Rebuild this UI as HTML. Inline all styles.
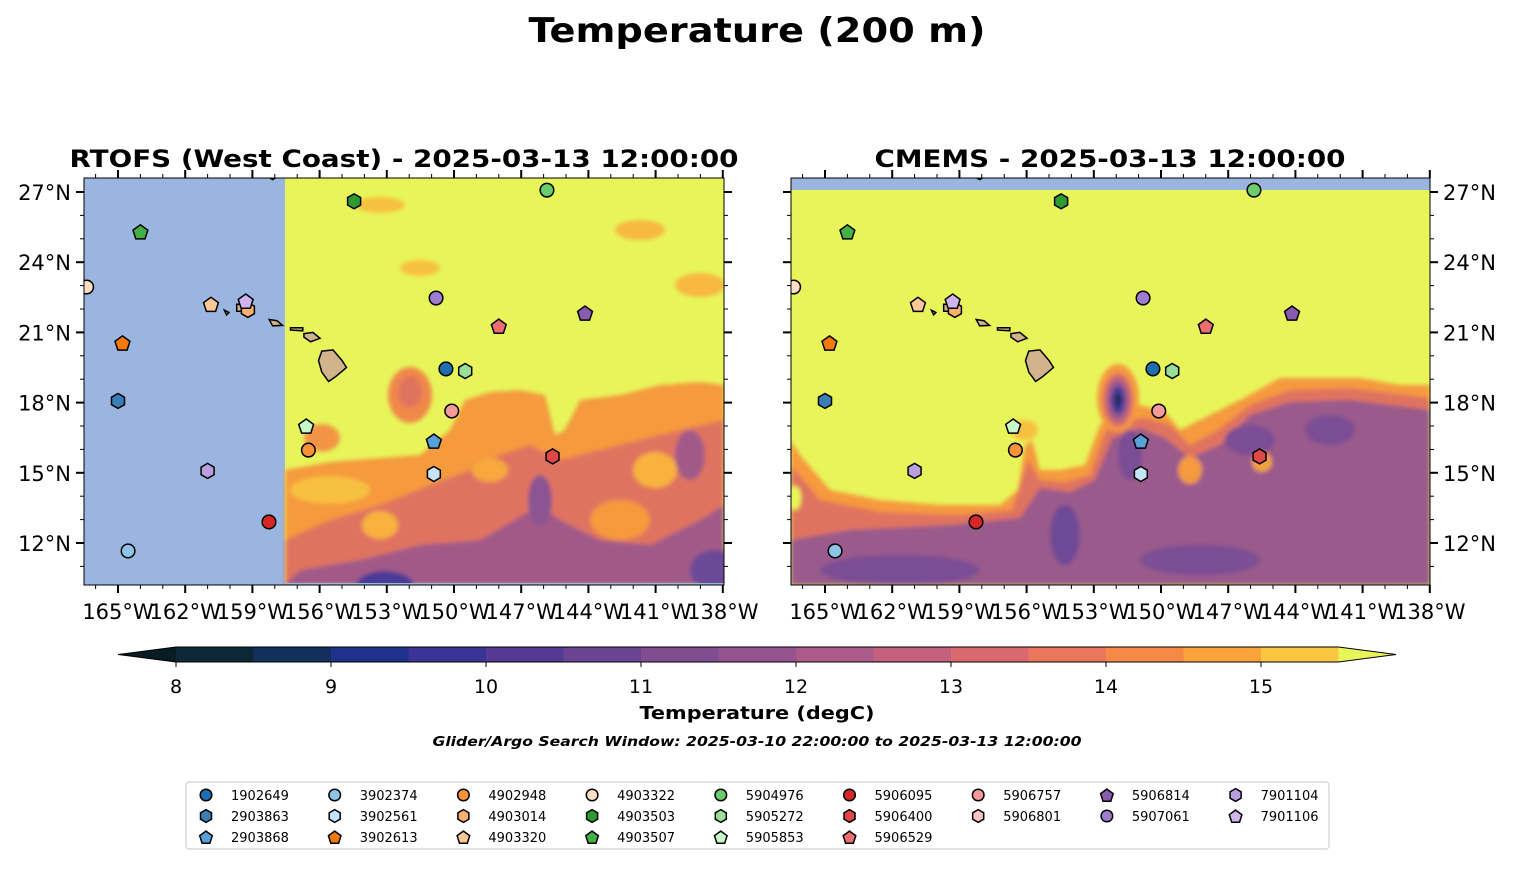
<!DOCTYPE html>
<html><head><meta charset="utf-8"><style>
body{margin:0;background:#fff;}
svg text{font-family:"DejaVu Sans","Liberation Sans",sans-serif;}
</style></head><body>
<svg id="fig" width="1514" height="889" viewBox="0 0 1514 889" xmlns="http://www.w3.org/2000/svg">
<defs>
<clipPath id="clipL"><rect x="84" y="178" width="640" height="407"/></clipPath>
<clipPath id="clipR"><rect x="791" y="178" width="639" height="407"/></clipPath>
<filter id="soft"><feGaussianBlur stdDeviation="2"/></filter>
</defs>
<text x="757" y="42" text-anchor="middle" font-size="34" font-weight="bold" textLength="457" lengthAdjust="spacingAndGlyphs">Temperature (200 m)</text>
<text x="404" y="167" text-anchor="middle" font-size="24" font-weight="bold" textLength="669" lengthAdjust="spacingAndGlyphs">RTOFS (West Coast) - 2025-03-13 12:00:00</text>
<text x="1110" y="167" text-anchor="middle" font-size="24" font-weight="bold" textLength="471" lengthAdjust="spacingAndGlyphs">CMEMS - 2025-03-13 12:00:00</text>

<g clip-path="url(#clipL)">
<rect x="84" y="178" width="640" height="407" fill="#e8f55a"/>
<rect x="84" y="178" width="201" height="407" fill="#9ab6e0"/>
<g filter="url(#soft)">
<path d="M285,470 L330,462 L380,458 L420,455 L450,430 L465,400 L490,392 L520,390 L545,395 L555,435 L565,430 L580,400 L620,395 L660,385 L700,382 L724,385 L724,585 L285,585 Z" fill="#f59a3e"/>
<ellipse cx="410" cy="395" rx="22" ry="28" fill="#f0884a"/>
<ellipse cx="410" cy="392" rx="12" ry="16" fill="#e0735f"/>
<ellipse cx="322" cy="438" rx="18" ry="14" fill="#f39444"/>
<ellipse cx="640" cy="230" rx="25" ry="10" fill="#f8b840"/>
<ellipse cx="700" cy="285" rx="25" ry="12" fill="#f8b840"/>
<ellipse cx="420" cy="268" rx="20" ry="8" fill="#f8c040"/>
<ellipse cx="380" cy="205" rx="25" ry="8" fill="#f8c040"/>
<ellipse cx="330" cy="490" rx="40" ry="14" fill="#f8c040"/>
<path d="M285,540 L330,520 L380,505 L430,485 L470,470 L500,455 L530,445 L560,460 L600,450 L640,440 L680,430 L724,420 L724,585 L285,585 Z" fill="#e0735f"/>
<ellipse cx="380" cy="525" rx="18" ry="14" fill="#f8b23c"/>
<ellipse cx="490" cy="470" rx="18" ry="12" fill="#f8a83c"/>
<ellipse cx="655" cy="470" rx="22" ry="18" fill="#f8b23c"/>
<ellipse cx="590" cy="430" rx="25" ry="14" fill="#f59a3e"/>
<ellipse cx="620" cy="520" rx="30" ry="20" fill="#f59a3e"/>
<path d="M285,585 L300,570 L360,560 L420,545 L480,540 L540,505 L560,520 L600,540 L650,545 L700,520 L724,505 L724,585 Z" fill="#a15a88"/>
<ellipse cx="690" cy="455" rx="15" ry="25" fill="#a15a88"/>
<ellipse cx="540" cy="500" rx="12" ry="25" fill="#8a5592"/>
<ellipse cx="385" cy="585" rx="28" ry="14" fill="#4a3a96"/>
<ellipse cx="715" cy="570" rx="25" ry="20" fill="#6b4a96"/>
</g>
<rect x="285" y="583" width="439" height="2" fill="#9ab6e0"/>
</g>

<g clip-path="url(#clipR)">
<rect x="791" y="178" width="639" height="407" fill="#e8f55a"/>
<rect x="791" y="178" width="639" height="12" fill="#9ab6e0"/>
<g filter="url(#soft)">
<path d="M791,440 L800,455 L830,490 L880,500 L940,505 L1000,505 L1018,490 L1025,445 L1032,440 L1040,470 L1060,470 L1085,465 L1100,425 L1115,410 L1140,405 L1165,412 L1180,430 L1200,420 L1240,400 L1280,378 L1320,378 L1360,378 L1400,385 L1430,385 L1430,585 L791,585 Z" fill="#f59a3e"/>
<path d="M791,465 L820,500 L880,512 L960,515 L1012,510 L1028,460 L1040,480 L1065,482 L1090,475 L1105,432 L1120,420 L1145,418 L1170,425 L1190,445 L1215,432 L1250,405 L1290,390 L1350,388 L1430,398 L1430,585 L791,585 Z" fill="#e0735f"/>
<path d="M791,540 L850,530 L950,525 L1020,518 L1040,488 L1070,492 L1095,480 L1112,438 L1140,428 L1165,438 L1190,458 L1220,445 L1250,415 L1290,402 L1350,400 L1430,410 L1430,585 L791,585 Z" fill="#9a5a8c"/>
<ellipse cx="1065" cy="535" rx="15" ry="30" fill="#6e4a96"/>
<ellipse cx="1130" cy="455" rx="12" ry="25" fill="#7a4e94"/>
<ellipse cx="1250" cy="440" rx="25" ry="15" fill="#7a4e94"/>
<ellipse cx="1330" cy="430" rx="25" ry="15" fill="#7a4e94"/>
<ellipse cx="900" cy="570" rx="80" ry="15" fill="#7a4e94"/>
<ellipse cx="1200" cy="560" rx="60" ry="15" fill="#7a4e94"/>
<ellipse cx="1262" cy="462" rx="10" ry="10" fill="#f5a23c"/>
<ellipse cx="1190" cy="470" rx="12" ry="14" fill="#f59a3e"/>
<ellipse cx="795" cy="498" rx="6" ry="12" fill="#e8f55a"/>
<ellipse cx="1118" cy="398" rx="21" ry="34" fill="#f59a3e"/>
<ellipse cx="1118" cy="400" rx="15" ry="27" fill="#d86a6a"/>
<ellipse cx="1118" cy="400" rx="11" ry="21" fill="#9a5a8c"/>
<ellipse cx="1118" cy="400" rx="7" ry="14" fill="#4a3a96"/>
<ellipse cx="1118" cy="400" rx="3" ry="7" fill="#1a2a5a"/>
<ellipse cx="1024" cy="430" rx="14" ry="10" fill="#f8c040"/>
</g>
</g>

<g id="islandsL" fill="#d2b48c" stroke="#000" stroke-width="1.5"></g>
<g id="islandsR" fill="#d2b48c" stroke="#000" stroke-width="1.5"></g>
<g id="markersL" clip-path="url(#clipL)"></g>
<g id="markersR" clip-path="url(#clipR)"></g>
<rect x="84" y="178" width="640" height="407" fill="none" stroke="#000" stroke-width="1"/>
<rect x="791" y="178" width="639" height="407" fill="none" stroke="#000" stroke-width="1"/>
<g id="axes"></g>
<g id="cbar"></g>
<text x="757" y="719" text-anchor="middle" font-size="18" font-weight="bold" textLength="235" lengthAdjust="spacingAndGlyphs">Temperature (degC)</text>
<text x="757" y="746" text-anchor="middle" font-size="13" font-weight="bold" font-style="italic" textLength="649" lengthAdjust="spacingAndGlyphs">Glider/Argo Search Window: 2025-03-10 22:00:00 to 2025-03-13 12:00:00</text>
<rect x="186" y="782" width="1143" height="67" rx="3" fill="#fff" stroke="#d0d0d0" stroke-width="1.2"/>
<g id="legend"></g>
</svg>
<script>
const NS="http://www.w3.org/2000/svg";
// float data
const floatIds=["1902649","2903863","2903868","3902374","3902561","3902613","4902948","4903014","4903320","4903322","4903503","4903507","5904976","5905272","5905853","5906095","5906400","5906529","5906757","5906801","5906814","5907061","7901104","7901106"];
const floatLon=[-150.36,-165.0,-150.9,-164.55,-150.9,-164.8,-156.5,-159.2,-160.85,-166.4,-154.46,-164.0,-145.85,-149.5,-156.6,-158.26,-145.6,-148.0,-150.1,-158.1,-144.15,-150.8,-161.0,-159.3];
const floatLat=[19.44,18.07,16.36,11.66,14.95,20.55,15.97,21.96,22.2,22.94,26.6,25.3,27.08,19.35,17.0,12.9,15.7,21.27,17.64,27.85,21.83,22.47,15.08,22.34];
const floatShape=["o","h","p","o","h","p","o","h","p","o","h","p","o","h","p","o","h","p","o","h","p","o","h","p"];
const floatColor=["#1f6fb0","#3a7fb8","#5aa0d8","#8ec4e8","#c6e4f8","#f47a10","#f7923a","#fbb070","#fdc896","#fde0c4","#2e9b30","#45b045","#6ccc6c","#98e098","#c8f8c8","#d62728","#e04848","#ec6e6e","#f49a9a","#fcc4c4","#8a5cb0","#a07cd0","#b8a0e0","#d0b4f0"];
const legendOrder=["1902649","2903863","2903868","3902374","3902561","3902613","4902948","4903014","4903320","4903322","4903503","4903507","5904976","5905272","5905853","5906095","5906400","5906529","5906757","5906801","5906814","5907061","7901104","7901106"];
const legendColSizes=[3,3,3,3,3,3,2,2,2];
const lonTicks=[-165,-162,-159,-156,-153,-150,-147,-144,-141,-138];
const latTicks=[12,15,18,21,24,27];
const cbTicks=[8,9,10,11,12,13,14,15];
const cbLevels=[8,8.5,9,9.5,10,10.5,11,11.5,12,12.5,13,13.5,14,14.5,15];
const cbColors=["#0c2737","#13305c","#1f318a","#3b3497","#553a94","#6a4492","#7f4d90","#95548d","#ab5b87","#c3617d","#d9696e","#ea765c","#f58a47","#f9a33a","#f8c642"];

const PX=22.4, PY=23.4;
function xL(lon){return 118+(lon+165)*PX;}
function xR(lon){return 825+(lon+165)*PX;}
function yM(lat){return 192+(27-lat)*PY;}
function cbx(v){return 176+(v-8)*155;}

function mk(tag,attrs,parent){const e=document.createElementNS(NS,tag);for(const k in attrs)e.setAttribute(k,attrs[k]);parent.appendChild(e);return e;}
function shapeEl(shape,cx,cy,r,color,parent){
  let e;
  if(shape==="o"){e=mk("circle",{cx:cx,cy:cy,r:r},parent);}
  else{
    const n=shape==="h"?6:5;const rr=shape==="h"?r*1.1:r*1.15;
    const pts=[];for(let i=0;i<n;i++){const a=-Math.PI/2+i*2*Math.PI/n;pts.push((cx+rr*Math.cos(a)).toFixed(1)+","+(cy+rr*Math.sin(a)+(shape==="p"?0.8:0)).toFixed(1));}
    e=mk("polygon",{points:pts.join(" ")},parent);
  }
  e.setAttribute("fill",color);e.setAttribute("stroke","#000");e.setAttribute("stroke-width","1.5");
  return e;
}
const islands=[
 [[-155.9,20.2],[-155.4,20.25],[-155.0,19.8],[-154.8,19.5],[-155.3,19.1],[-155.6,18.9],[-155.9,19.3],[-156.05,19.8]],
 [[-156.7,20.95],[-156.3,21.0],[-155.98,20.75],[-156.4,20.6],[-156.7,20.8]],
 [[-157.3,21.2],[-156.75,21.2],[-156.75,21.07],[-157.3,21.1]],
 [[-158.25,21.55],[-157.9,21.5],[-157.65,21.3],[-158.1,21.28]],
 [[-159.7,22.2],[-159.3,22.2],[-159.3,21.9],[-159.7,21.9]],
 [[-160.25,21.95],[-160.05,21.85],[-160.15,21.75]]
];
function drawIslands(g,xf){
  islands.forEach((isl)=>{
    const p=mk("polygon",{points:isl.map(q=>xf(q[0]).toFixed(1)+","+yM(q[1]).toFixed(1)).join(" ")},g);
    
    
  });
}
drawIslands(document.getElementById("islandsL"),xL);
drawIslands(document.getElementById("islandsR"),xR);

function drawMarkers(g,xf){
  floatIds.forEach((id,i)=>{
    const e=shapeEl(floatShape[i],xf(floatLon[i]),yM(floatLat[i]),6.8,floatColor[i],g);
    
    
  });
}
drawMarkers(document.getElementById("markersL"),xL);
drawMarkers(document.getElementById("markersR"),xR);

const ax=document.getElementById("axes");
function lonLabel(l){return Math.abs(l)+"°W";}
function drawAxis(x0,x1,xf,labelSide){
  const top=178,bot=585;
  for(let lon=-166;lon<=-138;lon++){
    const x=xf(lon); if(x<x0-0.5||x>x1+0.5) continue;
    const major=lonTicks.includes(lon);
    const len=major?8:4, w=major?2:1;
    mk("line",{x1:x,y1:bot,x2:x,y2:bot+len,stroke:"#000","stroke-width":w},ax);
    mk("line",{x1:x,y1:top,x2:x,y2:top-len,stroke:"#000","stroke-width":w},ax);
  }
  lonTicks.forEach(lon=>{
    const t=mk("text",{x:xf(lon),y:619,"text-anchor":"middle","font-size":"21"},ax);
    t.textContent=lonLabel(lon);
    
    
  });
  for(let lat=11;lat<=27;lat++){
    const y=yM(lat); const major=latTicks.includes(lat);
    const len=major?8:4,w=major?2:1;
    mk("line",{x1:x0,y1:y,x2:x0-len,y2:y,stroke:"#000","stroke-width":w},ax);
    mk("line",{x1:x1,y1:y,x2:x1+len,y2:y,stroke:"#000","stroke-width":w},ax);
  }
  latTicks.forEach(lat=>{
    const t=mk("text",{x:labelSide==="left"?x0-13:x1+13,y:yM(lat)+8,"text-anchor":labelSide==="left"?"end":"start","font-size":"21"},ax);
    t.textContent=lat+"°N";
    
    
  });
}
drawAxis(84,724,xL,"left");
drawAxis(791,1430,xR,"right");

const cb=document.getElementById("cbar");
const y0=647,h=15;
mk("polygon",{points:`${cbx(8)},${y0} ${cbx(8)},${y0+h} 118,${y0+h/2}`,fill:"#081c24"},cb);
cbLevels.forEach((lv,i)=>{
  const r=mk("rect",{x:cbx(lv),y:y0,width:cbx(lv+0.5)-cbx(lv)+0.5,height:h,fill:cbColors[i]},cb);
  
  
});
mk("polygon",{points:`${cbx(15.5)},${y0} ${cbx(15.5)},${y0+h} 1396,${y0+h/2}`,fill:"#e8f55a"},cb);
mk("polygon",{points:`118,${y0+h/2} ${cbx(8)},${y0} ${cbx(15.5)},${y0} 1396,${y0+h/2} ${cbx(15.5)},${y0+h} ${cbx(8)},${y0+h}`,fill:"none",stroke:"#000","stroke-width":"1"},cb);
cbTicks.forEach(v=>{
  mk("line",{x1:cbx(v),y1:y0+h,x2:cbx(v),y2:y0+h+5,stroke:"#000","stroke-width":"1"},cb);
  const t=mk("text",{x:cbx(v),y:693,"text-anchor":"middle","font-size":"19"},cb);
  t.textContent=v;
  
  
});

const lg=document.getElementById("legend");
let k=0;
legendColSizes.forEach((n,col)=>{
  for(let row=0;row<n;row++){
    const id=legendOrder[k++]; const i=floatIds.indexOf(id);
    const x=206+col*128.7, y=795+row*21;
    const e=shapeEl(floatShape[i],x,y,5.8,floatColor[i],lg);
    
    
    const t=mk("text",{x:x+25,y:y+5,"font-size":"13"},lg);
    t.textContent=id;
    
    
  }
});
</script>
</body></html>
